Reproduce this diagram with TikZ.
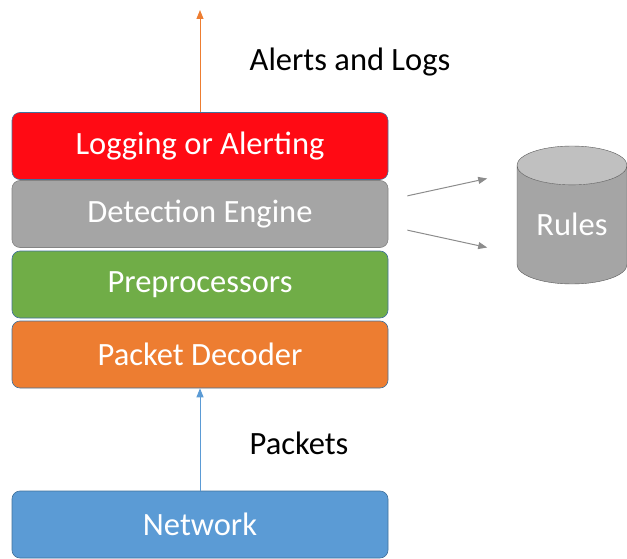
\documentclass[tikz,border=0pt]{standalone}
\usepackage{fontspec}
\setmainfont{Carlito}
\usetikzlibrary{shapes.geometric,arrows.meta}

\definecolor{logred}{HTML}{FF0A14}
\definecolor{detgray}{HTML}{A5A5A5}
\definecolor{preGreen}{HTML}{70AD47}
\definecolor{decOrange}{HTML}{ED7D31}
\definecolor{netBlue}{HTML}{5B9BD5}
\definecolor{edgeBlue}{HTML}{41719C}

\tikzset{
  layer/.style={draw=edgeBlue, line width=0.6pt, rounded corners=8pt,
    minimum width=376pt, minimum height=67pt, text=white,
    font=\fontsize{32.5}{36}\selectfont},
  flow/.style={line width=1pt, -{Triangle[length=9pt,width=7pt]}}
}

\begin{document}
\begin{tikzpicture}[x=1pt,y=-1pt]
            \useasboundingbox (0,0) rectangle (627,559);
            \node[layer, fill=logred] (log) at (200,146) {Logging or Alerting};
            \node[layer, fill=detgray, draw=detgray!80!black] (detect) at (200,214) {Detection Engine};
            \node[layer, fill=preGreen] (prep) at (200,284.5) {Preprocessors};
            \node[layer, fill=decOrange] (decode) at (200,354.5) {Packet Decoder};
            \node[layer, fill=netBlue] (net) at (200,524.5) {Network};
            \node[cylinder, shape border rotate=90, aspect=0.5, draw=gray!70!black,
              cylinder uses custom fill, cylinder body fill=detgray, cylinder end fill=detgray!70,
              minimum width=110pt, minimum height=138pt, text=white, anchor=shape center,
              font=\fontsize{32.5}{36}\selectfont] (rules) at (572,215) {\raisebox{7pt}{Rules}};
            \coordinate (out) at (200,10);
            \draw[flow, decOrange] (log.north) -- (out);
            \draw[flow, netBlue] (net.north) -- (decode.south);
            \draw[flow, detgray!85!black, shorten <=19.5pt, shorten >=30.5pt]
              ([yshift=14pt]detect.east) -- ([xshift=-55pt,yshift=43pt]rules.shape center);
            \draw[flow, detgray!85!black, shorten <=19.5pt, shorten >=30.5pt]
              ([yshift=-12pt]detect.east) -- ([xshift=-55pt,yshift=-39pt]rules.shape center);
            \node[font=\fontsize{32.5}{36}\selectfont] (alertlbl) at (350,62) {Alerts and Logs};
            \node[font=\fontsize{32.5}{36}\selectfont] (pktlbl) at (299,443) {Packets};
        \end{tikzpicture}
\end{document}
